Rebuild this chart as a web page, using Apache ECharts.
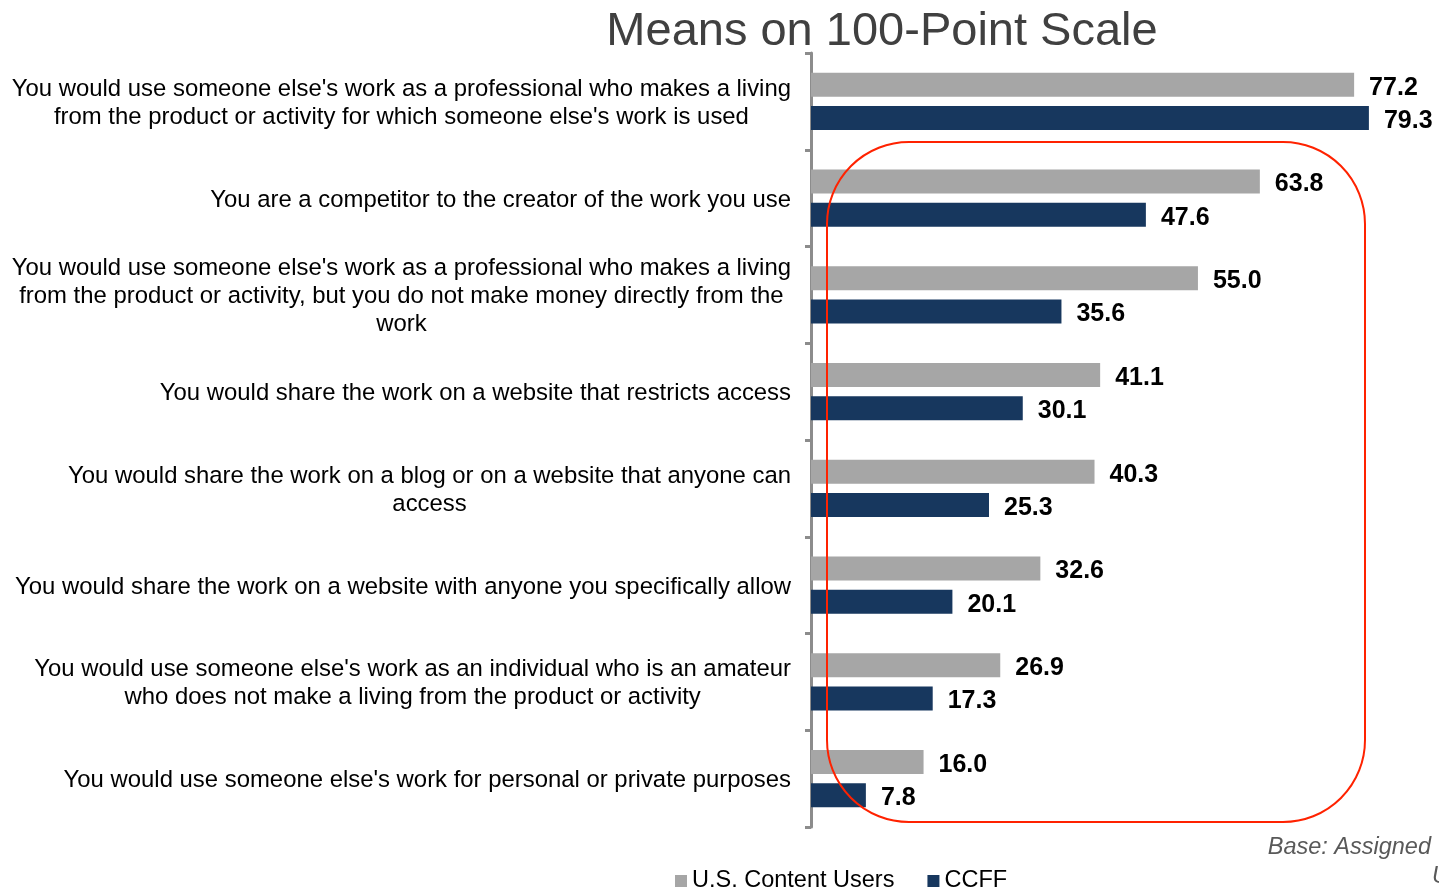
<!DOCTYPE html>
<html>
<head>
<meta charset="utf-8">
<script src="https://cdn.jsdelivr.net/npm/echarts@6/dist/echarts.min.js"></script>
<style>
  html, body { margin: 0; padding: 0; background: #fff; }
  #chart { width: 1439px; height: 890px; }
</style>
</head>
<body>
<div id="chart"></div>
<script>
// categories, top to bottom
var categories = [
    "You would use someone else's work as a professional who makes a living\nfrom the product or activity for which someone else's work is used",
    "You are a competitor to the creator of the work you use",
    "You would use someone else's work as a professional who makes a living\nfrom the product or activity, but you do not make money directly from the\nwork",
    "You would share the work on a website that restricts access",
    "You would share the work on a blog or on a website that anyone can\naccess",
    "You would share the work on a website with anyone you specifically allow",
    "You would use someone else's work as an individual who is an amateur\nwho does not make a living from the product or activity",
    "You would use someone else's work for personal or private purposes"
];
var usContentUsers = [77.2, 63.8, 55.0, 41.1, 40.3, 32.6, 26.9, 16.0];
var ccff = [79.3, 47.6, 35.6, 30.1, 25.3, 20.1, 17.3, 7.8];
var seriesNames = ['U.S. Content Users', 'CCFF'];

window.onload = function () {
    var chart = echarts.init(document.getElementById('chart'), null, {renderer: 'canvas'});

    // bold value labels at bar ends
    var valueLabel = {
        show: true,
        position: 'right',
        distance: 15,
        offset: [0, 3],
        color: '#000',
        fontSize: 25,
        fontWeight: 'bold',
        fontFamily: '"Liberation Sans", Arial, sans-serif',
        formatter: function (p) { return p.value.toFixed(1); }
    };

    var option = {
        backgroundColor: '#fff',
        animation: false,
        title: {
            text: 'Means on 100-Point Scale',
            left: 877,
            textAlign: 'center',
            top: 4,
            textStyle: {
                fontFamily: '"Liberation Sans", Arial, sans-serif',
                fontSize: 47,
                fontWeight: 'normal',
                color: '#404040'
            }
        },
        legend: {
            left: 670,
            top: 864,
            icon: 'rect',
            itemWidth: 12,
            itemHeight: 12,
            itemGap: 33,
            textStyle: {
                fontFamily: '"Liberation Sans", Arial, sans-serif',
                fontSize: 23.5,
                color: '#000'
            },
            data: seriesNames
        },
        grid: {
            left: 811,
            right: 30,
            top: 53,
            bottom: 63,
            containLabel: false
        },
        xAxis: {
            type: 'value',
            min: 0,
            max: 85,
            show: false
        },
        yAxis: {
            type: 'category',
            inverse: true,
            data: categories,
            axisLine: {
                show: true,
                lineStyle: { color: '#8c8c8c', width: 3 }
            },
            axisTick: {
                show: true,
                length: 6,
                lineStyle: { color: '#8c8c8c', width: 3 }
            },
            axisLabel: {
                interval: 0,
                margin: 20,
                align: 'right',
                // each line centred inside the right-aligned block
                formatter: function (v) {
                    return v.split('\n').map(function (s) { return '{c|' + s + '}'; }).join('\n');
                },
                rich: {
                    c: {
                        align: 'center',
                        fontFamily: '"Liberation Sans", Arial, sans-serif',
                        fontSize: 23.9,
                        lineHeight: 28,
                        padding: [4, 0, 0, 0],
                        color: '#000'
                    }
                }
            }
        },
        series: [
            {
                name: seriesNames[0],
                type: 'bar',
                data: usContentUsers,
                barWidth: 24,
                barGap: '38%',
                itemStyle: { color: '#a6a6a6' },
                label: valueLabel
            },
            {
                name: seriesNames[1],
                type: 'bar',
                data: ccff,
                barWidth: 24,
                itemStyle: { color: '#17375e' },
                label: valueLabel
            }
        ],
        graphic: [
            {
                type: 'rect',
                z: 10,
                shape: { x: 827, y: 142, width: 538, height: 680, r: 82 },
                style: { fill: 'none', stroke: '#ff2200', lineWidth: 2 }
            },
            {
                type: 'text',
                right: 8,
                top: 836,
                style: {
                    text: 'Base: Assigned',
                    fill: '#595959',
                    fontFamily: '"Liberation Sans", Arial, sans-serif',
                    fontSize: 23.5,
                    fontStyle: 'italic'
                }
            },
            {
                type: 'text',
                left: 1432,
                top: 865,
                style: {
                    text: 'U',
                    fill: '#595959',
                    fontFamily: '"Liberation Sans", Arial, sans-serif',
                    fontSize: 23.5,
                    fontStyle: 'italic'
                }
            }
        ]
    };

    chart.setOption(option);
};
</script>
</body>
</html>
